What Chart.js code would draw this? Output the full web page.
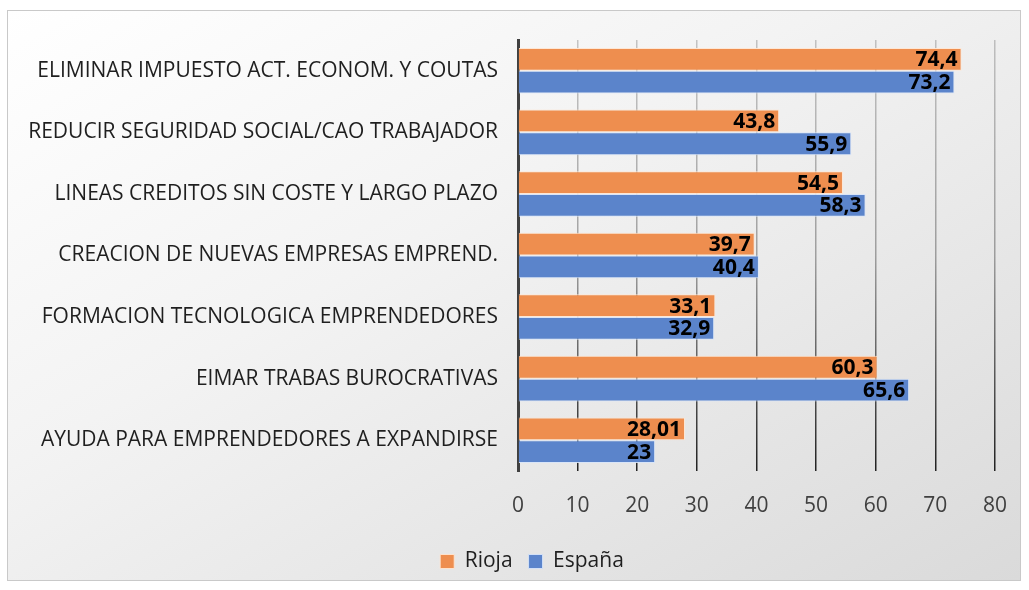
<!DOCTYPE html>
<html>
<head>
<meta charset="utf-8">
<script src="https://cdn.jsdelivr.net/npm/chart.js@4.4.1/dist/chart.umd.min.js"></script>
<style>
  html, body { margin: 0; padding: 0; background: #ffffff; }
  body { width: 1029px; height: 590px; position: relative; overflow: hidden; }
  #frame {
    position: absolute; left: 7px; top: 10px; width: 1012px; height: 569px;
    border: 1px solid #c9c9c9;
    background: linear-gradient(to bottom right, #ffffff 0%, #f3f3f3 40%, #dadada 100%);
  }
  #wrap { position: absolute; left: 0; top: 0; width: 1029px; height: 590px; }
</style>
</head>
<body>
<div id="frame"></div>
<div id="wrap"><canvas id="c" width="1029" height="590"></canvas></div>
<script>
const categories = [
  "ELIMINAR IMPUESTO ACT. ECONOM. Y COUTAS",
  "REDUCIR SEGURIDAD SOCIAL/CAO TRABAJADOR",
  "LINEAS CREDITOS SIN COSTE Y LARGO PLAZO",
  "CREACION DE NUEVAS EMPRESAS EMPREND.",
  "FORMACION TECNOLOGICA EMPRENDEDORES",
  "EIMAR TRABAS BUROCRATIVAS",
  "AYUDA PARA EMPRENDEDORES A EXPANDIRSE"
];
const riojaValues = [74.4, 43.8, 54.5, 39.7, 33.1, 60.3, 28.01];
const espanaValues = [73.2, 55.9, 58.3, 40.4, 32.9, 65.6, 23];
const seriesNames = ["Rioja", "España"];
const xTickMin = 0, xTickMax = 80, xTickStep = 10;

const FONT = "'Open Sans', 'Noto Sans', sans-serif";

const valueLabels = {
  id: 'valueLabels',
  afterDraw(chart) {
    const ctx = chart.ctx;
    ctx.save();
    ctx.font = "bold 21px " + FONT;
    ctx.fillStyle = '#000000';
    ctx.textAlign = 'right';
    ctx.textBaseline = 'middle';
    chart.data.datasets.forEach((ds, di) => {
      const meta = chart.getDatasetMeta(di);
      meta.data.forEach((el, i) => {
        const txt = String(ds.data[i]).replace('.', ',');
        ctx.fillText(txt, el.x - 4, el.y + 1);
      });
    });
    ctx.restore();
  }
};

const legendShift = {
  id: 'legendShift',
  afterLayout(chart) {
    if (chart.legend) { chart.legend.left = 64; }
  }
};

function gridGradient(context) {
  const chart = context.chart;
  const a = chart.chartArea;
  if (!a) return 'rgba(0,0,0,0.3)';
  const g = chart.ctx.createLinearGradient(0, a.top, 0, a.bottom);
  g.addColorStop(0, 'rgba(0,0,0,0.2)');
  g.addColorStop(0.5, 'rgba(0,0,0,0.32)');
  g.addColorStop(1, 'rgba(0,0,0,0.85)');
  return g;
}

new Chart(document.getElementById('c'), {
  type: 'bar',
  data: {
    labels: categories,
    datasets: [
      {
        label: seriesNames[0],
        data: riojaValues,
        backgroundColor: '#EE8E4F',
        borderColor: 'rgba(255,230,210,0.9)',
        borderWidth: 1,
        categoryPercentage: 0.74,
        barPercentage: 1.0
      },
      {
        label: seriesNames[1],
        data: espanaValues,
        backgroundColor: '#5B84CB',
        borderColor: 'rgba(215,228,250,0.9)',
        borderWidth: 1,
        categoryPercentage: 0.74,
        barPercentage: 1.0
      }
    ]
  },
  options: {
    indexAxis: 'y',
    responsive: false,
    animation: false,
    layout: { padding: { left: 12, right: 29, top: 40, bottom: 8 } },
    scales: {
      x: {
        min: xTickMin, max: xTickMax,
        z: 1,
        ticks: { stepSize: xTickStep, color: '#404040', font: { family: FONT, size: 21 }, padding: 22 },
        grid: { color: gridGradient, lineWidth: 1.5, drawTicks: false },
        border: { display: false },
        afterFit(scale) { scale.height = 64; }
      },
      y: {
        z: 1,
        ticks: { color: '#1f1f1f', font: { family: FONT, size: 21 }, padding: 20 },
        grid: { display: false, drawTicks: false },
        border: { display: true, color: '#404040', width: 3 },
        afterFit(scale) { scale.width = 506; }
      }
    },
    plugins: {
      legend: {
        position: 'bottom',
        labels: {
          color: '#1f1f1f',
          font: { family: FONT, size: 21 },
          boxWidth: 14, boxHeight: 14, padding: 16
        }
      },
      tooltip: { enabled: false }
    }
  },
  plugins: [valueLabels, legendShift]
});
</script>
</body>
</html>
